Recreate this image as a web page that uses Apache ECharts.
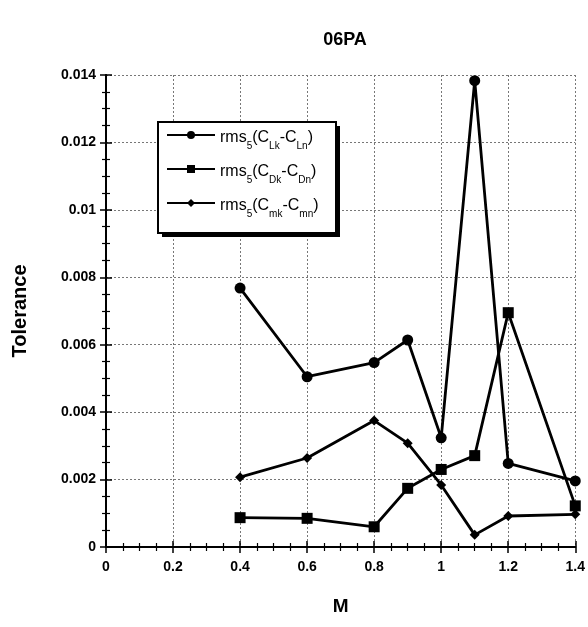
<!DOCTYPE html>
<html>
<head>
<meta charset="utf-8">
<script src="https://cdn.jsdelivr.net/npm/echarts@6/dist/echarts.min.js"></script>
<style>
  html, body { margin: 0; padding: 0; background: #fff; }
  #chart { width: 588px; height: 627px; }
</style>
</head>
<body>
<div id="chart"></div>
<script>
// Mach numbers
const machValues = [0.4, 0.6, 0.8, 0.9, 1.0, 1.1, 1.2, 1.4]
// rms5(CLk - CLn)
const liftTol = [0.00768, 0.00505, 0.00547, 0.00614, 0.00324, 0.01383, 0.00248, 0.00196]
// rms5(CDk - CDn)
const dragTol = [0.00087, 0.00085, 0.00060, 0.00174, 0.0023, 0.00271, 0.00695, 0.00122]
// rms5(Cmk - Cmn)
const momentTol = [0.00207, 0.00264, 0.00375, 0.00308, 0.00184, 0.00036, 0.00092, 0.00097]
const xTickLabels = ['0', '0.2', '0.4', '0.6', '0.8', '1', '1.2', '1.4']
const yTickLabels = ['0', '0.002', '0.004', '0.006', '0.008', '0.01', '0.012', '0.014']

const legendSubs = {
  L: ['Lk', 'Ln'],
  D: ['Dk', 'Dn'],
  m: ['mk', 'mn']
}

const pairs = (ys) => machValues.map((x, i) => [x, ys[i]])

const font = 'Liberation Sans, Arial, sans-serif'

let chart = echarts.init(document.getElementById('chart'))

const axisCommon = {
  axisLine: { lineStyle: { color: '#000', width: 2 } },
  axisTick: { inside: true, length: 6, lineStyle: { color: '#000', width: 1.5 } },
  minorTick: { show: true, splitNumber: 4, length: 4, lineStyle: { color: '#000', width: 1.2 } }
}

function lineSeries(name, data, symbol, size) {
  return {
    name: name,
    type: 'line',
    data: data,
    symbol: symbol,
    symbolSize: size,
    xAxisIndex: 0,
    yAxisIndex: 0,
    itemStyle: { color: '#000' },
    lineStyle: { color: '#000', width: 2.8 },
    emphasis: { disabled: true },
    z: 5
  }
}

// legend frame: drop shadow + white box
const box = { x: 158, y: 122, w: 178, h: 111 }

chart.setOption({
  animation: false,
  backgroundColor: '#fff',
  title: {
    text: '06PA',
    left: 340,
    top: 26,
    textAlign: 'center',
    textStyle: { fontFamily: font, fontWeight: 'bold', fontSize: 18, color: '#000' }
  },
  grid: { left: 106, right: 12, top: 75, bottom: 80 },
  graphic: [
    {
      type: 'rect', z: 10,
      shape: { x: box.x + 4, y: box.y + 4, width: box.w, height: box.h },
      style: { fill: '#000' }
    },
    {
      type: 'rect', z: 11,
      shape: { x: box.x, y: box.y, width: box.w, height: box.h },
      style: { fill: '#fff', stroke: '#000', lineWidth: 2 }
    }
  ],
  legend: {
    z: 12,
    orient: 'vertical',
    left: box.x + 8,
    top: box.y + 8,
    padding: 0,
    itemGap: 13,
    itemWidth: 48,
    itemHeight: 10,
    data: ['L', 'D', 'm'],
    formatter: (name) => {
      const s = legendSubs[name]
      return '{a|rms}{s|5}{a|(C}{s|' + s[0] + '}{a|-C}{s|' + s[1] + '}{a|)}'
    },
    textStyle: {
      fontFamily: font,
      color: '#000',
      rich: {
        a: { fontFamily: font, fontSize: 16, color: '#000', verticalAlign: 'bottom', lineHeight: 22 },
        s: { fontFamily: font, fontSize: 10, color: '#000', verticalAlign: 'bottom', lineHeight: 14, padding: [0, 0, -5, 0] }
      }
    }
  },
  xAxis: [
    Object.assign({
      type: 'value',
      min: 0,
      max: 1.4,
      interval: 0.2,
      name: 'M',
      nameLocation: 'middle',
      nameGap: 50,
      nameTextStyle: { fontFamily: font, fontWeight: 'bold', fontSize: 19, color: '#000' },
      axisLabel: {
        fontFamily: font, fontWeight: 'bold', fontSize: 14, color: '#000', margin: 13,
        formatter: (v) => xTickLabels[Math.round(v / 0.2)]
      },
      splitLine: { show: true, lineStyle: { color: '#777', type: [2, 2], width: 1 } }
    }, axisCommon),
    Object.assign({
      type: 'value',
      position: 'top',
      min: 0,
      max: 1.4,
      interval: 0.2,
      axisLabel: { show: false },
      splitLine: { show: false }
    }, axisCommon)
  ],
  yAxis: [
    Object.assign({
      type: 'value',
      min: 0,
      max: 0.014,
      interval: 0.002,
      name: 'Tolerance',
      nameLocation: 'middle',
      nameGap: 76,
      nameTextStyle: { fontFamily: font, fontWeight: 'bold', fontSize: 20, color: '#000' },
      axisLabel: {
        fontFamily: font, fontWeight: 'bold', fontSize: 14, color: '#000', margin: 10,
        formatter: (v) => yTickLabels[Math.round(v / 0.002)]
      },
      splitLine: { show: true, lineStyle: { color: '#777', type: [2, 2], width: 1 } }
    }, axisCommon),
    Object.assign({
      type: 'value',
      position: 'right',
      min: 0,
      max: 0.014,
      interval: 0.002,
      axisLabel: { show: false },
      splitLine: { show: false }
    }, axisCommon)
  ],
  series: [
    lineSeries('L', pairs(liftTol), 'circle', 11),
    lineSeries('D', pairs(dragTol), 'rect', 11),
    lineSeries('m', pairs(momentTol), 'diamond', 10)
  ]
})
</script>
</body>
</html>
